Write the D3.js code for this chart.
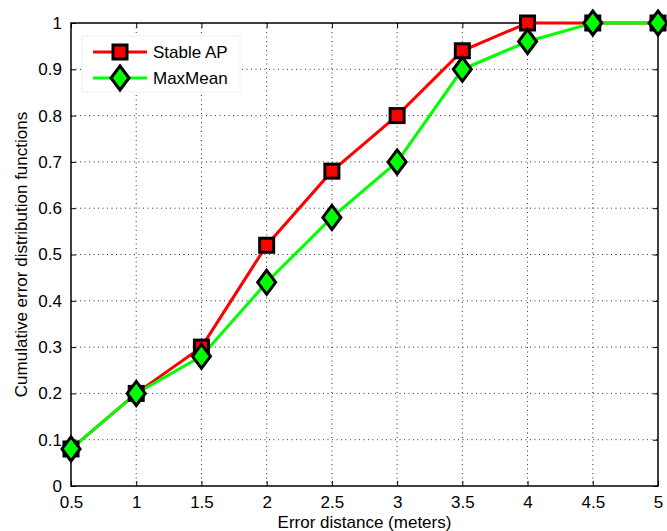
<!DOCTYPE html>
<html>
<head>
<meta charset="utf-8">
<script src="https://cdn.jsdelivr.net/npm/d3@7"></script>
<style>
  body { margin: 0; background: #fff; }
  text { font-family: "Liberation Sans", Arial, sans-serif; }
</style>
</head>
<body>
<div id="chart"></div>
<script>
// Data
var xValues = [0.5, 1, 1.5, 2, 2.5, 3, 3.5, 4, 4.5, 5];
var stableAP = [0.08, 0.2, 0.3, 0.52, 0.68, 0.8, 0.94, 1, 1, 1];
var maxMean = [0.08, 0.2, 0.28, 0.44, 0.58, 0.7, 0.9, 0.96, 1, 1];
var xTicks = [0.5, 1, 1.5, 2, 2.5, 3, 3.5, 4, 4.5, 5];
var yTicks = [0, 0.1, 0.2, 0.3, 0.4, 0.5, 0.6, 0.7, 0.8, 0.9, 1];

var series = [
  {name: "Stable AP", values: stableAP, color: "#ff0000", marker: "square"},
  {name: "MaxMean", values: maxMean, color: "#00ff00", marker: "diamond"}
];

// Dimensions
var margin = {top: 23, right: 9, bottom: 45, left: 71},
    width = 667 - margin.left - margin.right,
    height = 531 - margin.top - margin.bottom;

var svg = d3.select("#chart").append("svg")
    .attr("width", 667)
    .attr("height", 531)
  .append("g")
    .attr("transform", "translate(" + margin.left + "," + margin.top + ")");

var x = d3.scaleLinear().domain([0.5, 5]).range([0, width]);
var y = d3.scaleLinear().domain([0, 1]).range([height, 0]);

// Dotted grid
svg.append("g").selectAll("line")
    .data(xTicks.slice(1, -1))
  .enter().append("line")
    .attr("x1", d => x(d)).attr("x2", d => x(d))
    .attr("y1", 0).attr("y2", height)
    .attr("stroke", "#333").attr("stroke-width", 1)
    .attr("stroke-dasharray", "1,3.5");
svg.append("g").selectAll("line")
    .data(yTicks.slice(1, -1))
  .enter().append("line")
    .attr("y1", d => y(d)).attr("y2", d => y(d))
    .attr("x1", 0).attr("x2", width)
    .attr("stroke", "#333").attr("stroke-width", 1)
    .attr("stroke-dasharray", "1,3.5");

// Axes with inward ticks
function styleAxis(g) {
  g.select(".domain").remove();
  g.selectAll(".tick line").attr("stroke", "#000");
  g.selectAll(".tick text").style("font-size", "17px").attr("fill", "#000");
}
svg.append("g")
    .attr("transform", "translate(0," + height + ")")
    .call(d3.axisBottom(x).tickValues(xTicks).tickSize(-5).tickPadding(10).tickFormat(d3.format("")))
    .call(styleAxis);
svg.append("g")
    .call(d3.axisTop(x).tickValues(xTicks).tickSize(-5).tickFormat(""))
    .call(styleAxis);
svg.append("g")
    .call(d3.axisLeft(y).tickValues(yTicks).tickSize(-5).tickPadding(9).tickFormat(d3.format("")))
    .call(styleAxis);
svg.append("g")
    .attr("transform", "translate(" + width + ",0)")
    .call(d3.axisRight(y).tickValues(yTicks).tickSize(-5).tickFormat(""))
    .call(styleAxis);

// Box
svg.append("rect")
    .attr("width", width).attr("height", height)
    .attr("fill", "none").attr("stroke", "#000").attr("stroke-width", 1.5);

// Lines
var line = d3.line()
    .x((d, i) => x(xValues[i]))
    .y(d => y(d));

series.forEach(function(s) {
  svg.append("path")
      .datum(s.values)
      .attr("fill", "none")
      .attr("stroke", s.color)
      .attr("stroke-width", 3)
      .attr("d", line);
});

function drawMarker(g, type, color) {
  if (type === "square") {
    g.append("rect")
        .attr("x", -7).attr("y", -7).attr("width", 14).attr("height", 14)
        .attr("fill", color).attr("stroke", "#000").attr("stroke-width", 3);
  } else {
    g.append("path")
        .attr("d", "M0,-12L9,0L0,12L-9,0Z")
        .attr("fill", color).attr("stroke", "#000").attr("stroke-width", 3)
        .attr("stroke-linejoin", "miter");
  }
}

series.forEach(function(s) {
  var pts = svg.append("g").selectAll("g")
      .data(s.values)
    .enter().append("g")
      .attr("transform", (d, i) => "translate(" + x(xValues[i]) + "," + y(d) + ")");
  pts.each(function() { drawMarker(d3.select(this), s.marker, s.color); });
});

// Legend
var legend = svg.append("g").attr("transform", "translate(11,13)");
legend.append("rect")
    .attr("width", 158).attr("height", 56)
    .attr("fill", "#fff").attr("stroke", "#f0f0f0");
series.forEach(function(s, i) {
  var row = legend.append("g").attr("transform", "translate(0," + (16 + i * 26) + ")");
  row.append("line")
      .attr("x1", 11).attr("x2", 65)
      .attr("stroke", s.color).attr("stroke-width", 3);
  var m = row.append("g").attr("transform", "translate(38,0)");
  drawMarker(m, s.marker, s.color);
  row.append("text")
      .attr("x", 71).attr("dy", "0.35em")
      .style("font-size", "17px")
      .text(s.name);
});

// Axis labels
svg.append("text")
    .attr("x", width / 2)
    .attr("y", height + 42)
    .style("text-anchor", "middle")
    .style("font-size", "17px")
    .text("Error distance (meters)");

svg.append("text")
    .attr("transform", "rotate(-90)")
    .attr("x", -height / 2)
    .attr("y", -44)
    .style("text-anchor", "middle")
    .style("font-size", "17px")
    .text("Cumulative error distribution functions");
</script>
</body>
</html>
